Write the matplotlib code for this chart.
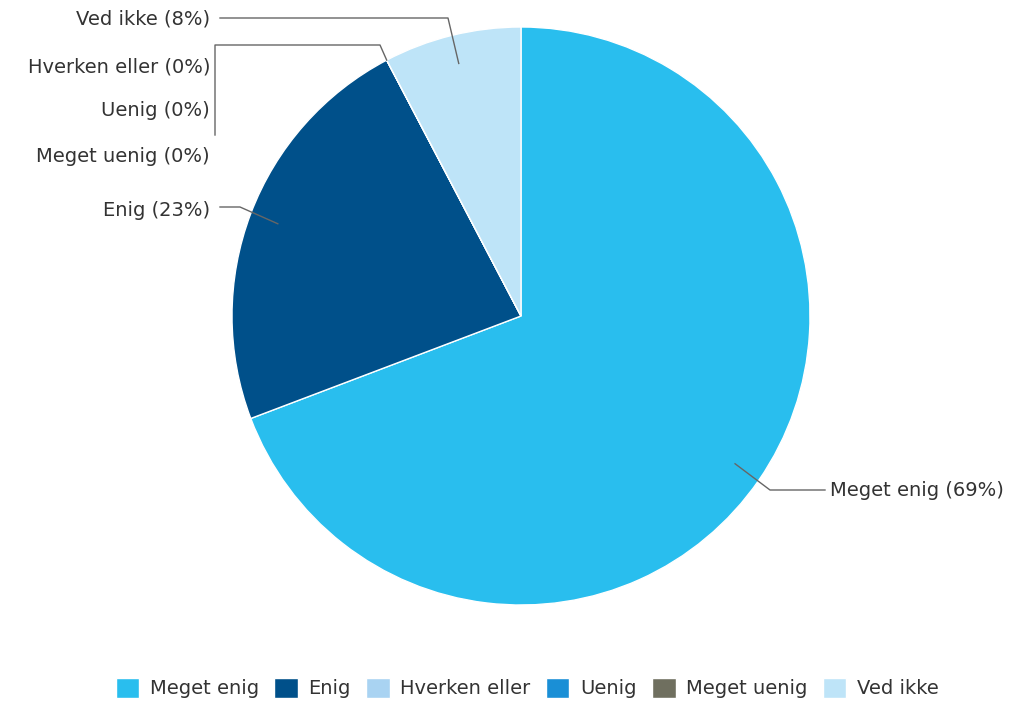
import numpy as np
import matplotlib
matplotlib.use("Agg")
import matplotlib.pyplot as plt

# Data
categories = ["Meget enig", "Enig", "Hverken eller", "Uenig", "Meget uenig", "Ved ikke"]
counts = [9, 3, 0, 0, 0, 1]
pct_labels = ["69%", "23%", "0%", "0%", "0%", "8%"]
colors = ["#29BEEE", "#00508A", "#A9D3F2", "#1A8FD6", "#6F6F5F", "#BEE4F8"]

W, H = 1014, 703
fig = plt.figure(figsize=(W / 100, H / 100), dpi=100)
ax = fig.add_axes([0, 0, 1, 1])
ax.set_xlim(0, W)
ax.set_ylim(0, H)
ax.set_aspect("equal")
ax.axis("off")

cx, cy, R = 521, H - 316, 289
wedges, _ = ax.pie(counts, colors=colors, startangle=90, counterclock=False,
                   radius=R, center=(cx, cy), frame=True,
                   wedgeprops=dict(linewidth=1, edgecolor="white"))
ax.set_xlim(0, W)
ax.set_ylim(0, H)
ax.axis("off")

txt_color = "#333333"
line_color = "#666666"
fs = 14

def anchor(i, frac):
    w = wedges[i]
    if counts[i] == 0:
        ang = w.theta1
    else:
        ang = (w.theta1 + w.theta2) / 2
    a = np.deg2rad(ang)
    return cx + frac * R * np.cos(a), cy + frac * R * np.sin(a)

def yy(y):
    return H - y

# Ved ikke
ax0, ay0 = anchor(5, 0.9)
ax.plot([220, 448, ax0], [yy(18), yy(18), ay0], color=line_color, lw=1)
ax.text(210, yy(19), f"{categories[5]} ({pct_labels[5]})", ha="right", va="center",
        fontsize=fs, color=txt_color)

# zero slices
zx, zy = anchor(2, 1.0)
ax.plot([215, 215, 380, zx], [yy(135), yy(45), yy(45), zy], color=line_color, lw=1)
for i, y in zip([2, 3, 4], [67, 111, 156]):
    ax.text(210, yy(y), f"{categories[i]} ({pct_labels[i]})", ha="right", va="center",
            fontsize=fs, color=txt_color)

# Enig
ex, ey = anchor(1, 0.9)
ax.plot([220, 240, ex], [yy(207), yy(207), ey], color=line_color, lw=1)
ax.text(210, yy(211), f"{categories[1]} ({pct_labels[1]})", ha="right", va="center",
        fontsize=fs, color=txt_color)

# Meget enig
mx, my = anchor(0, 0.9)
ax.plot([825, 770, mx], [yy(490), yy(490), my], color=line_color, lw=1)
ax.text(830, yy(491), f"{categories[0]} ({pct_labels[0]})", ha="left", va="center",
        fontsize=fs, color=txt_color)

fig.legend(wedges, categories, loc="center", bbox_to_anchor=(0.52, 1 - 688 / H),
           ncol=6, frameon=False, fontsize=fs, handlelength=1.2, handleheight=1.2,
           columnspacing=0.8, handletextpad=0.55, labelcolor=txt_color)

fig.savefig("out.png", dpi=100, facecolor="white")
